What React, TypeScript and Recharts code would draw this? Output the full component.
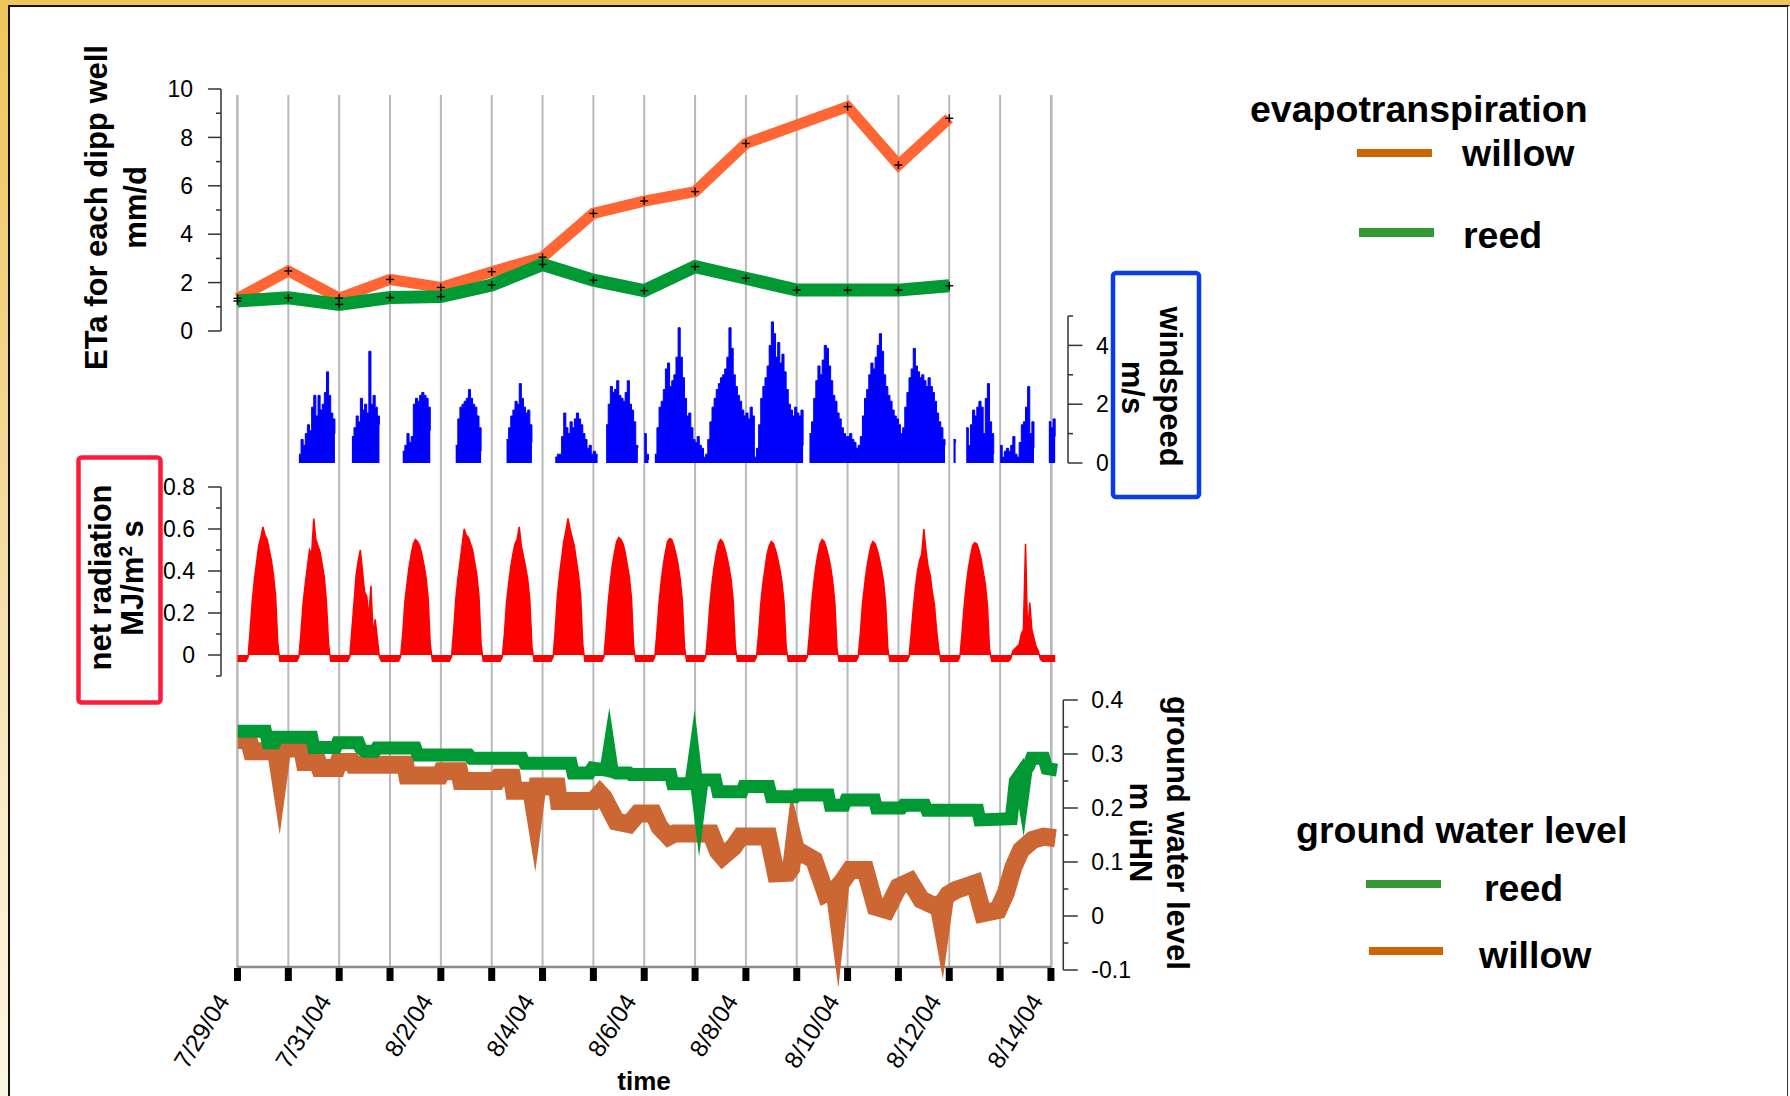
import React from 'react';
import { ComposedChart, Line, Area, XAxis, YAxis, CartesianGrid, ReferenceLine } from 'recharts';

const W = 1790;
const H = 1096;
const FONT = '"Liberation Sans", Arial, Helvetica, sans-serif';

// ---------- layout helpers (pixel position of 7/29/04 00:00 and px per day) ----------
const X0 = 237.5;
const DAY = 50.84;
const dom = (l: number, r: number): [number, number] => [(l - X0) / DAY, (r - X0) / DAY];

// ---------- x axis ----------
const dayTicks = [0, 1, 2, 3, 4, 5, 6, 7, 8, 9, 10, 11, 12, 13, 14, 15, 16];
const dateLabels = ['7/29/04', '', '7/31/04', '', '8/2/04', '', '8/4/04', '', '8/6/04', '', '8/8/04', '', '8/10/04', '', '8/12/04', '', '8/14/04'];

// ---------- evapotranspiration (mm/d), one value per day starting 7/29 ----------
const etaDays = [0, 1, 2, 3, 4, 5, 6, 7, 8, 9, 10, 11, 12, 13, 14];
const etaWillow = [1.35, 2.48, 1.36, 2.13, 1.8, 2.45, 3.05, 4.86, 5.37, 5.76, 7.75, null, 9.27, 6.86, 8.79];
const etaReed = [1.24, 1.37, 1.1, 1.38, 1.42, 1.9, 2.75, 2.1, 1.67, 2.66, 2.18, 1.69, 1.69, 1.69, 1.87];
const etaTicks = [0, 1, 2, 3, 4, 5, 6, 7, 8, 9, 10];
const etaMajor = [0, 2, 4, 6, 8, 10];

// ---------- windspeed (m/s), hourly per day, null = no record ----------
const n = null;
const windDay0 = [n, n, n, n, n, n, n, n, n, n, n, n, n, n, n, n, n, n, n, n, n, n, n, n];
const windDay1 = [n, n, n, n, n, 0.3, 0.8, 0.6, 1.0, 1.3, 1.1, 1.9, 2.3, 1.6, 2.3, 1.8, 2.0, 2.4, 3.1, 2.3, 1.7, 1.5, 1.0, n];
const windDay2 = [n, n, n, n, n, n, 0.9, 1.2, 1.6, 1.4, 2.2, 1.8, 2.0, 1.7, 3.8, 2.0, 2.3, 1.9, 1.6, 1.3, n, n, n, n];
const windDay3 = [n, n, n, n, n, n, 0.4, 0.6, 1.0, 0.7, 0.9, 2.0, 2.2, 2.1, 2.3, 2.4, 2.3, 2.2, 1.9, 1.1, n, n, n, n];
const windDay4 = [n, n, n, n, n, n, n, 0.6, 1.5, 1.9, 2.0, 2.1, 2.2, 2.5, 2.2, 2.0, 1.9, 1.6, 1.2, 0.4, n, n, n, n];
const windDay5 = [n, n, n, n, n, n, n, 0.8, 1.2, 1.6, 1.8, 2.1, 2.0, 2.7, 2.2, 1.9, 1.7, 1.8, 1.3, 0.7, n, n, n, n];
const windDay6 = [n, n, n, n, n, n, 0.2, 0.3, 0.3, 0.9, 1.7, 1.2, 1.0, 1.4, 1.2, 1.5, 1.7, 1.5, 1.3, 1.0, 0.8, 0.5, 0.6, 0.3];
const windDay7 = [0.4, 0.3, 0.3, n, n, n, 1.3, 2.0, 2.6, 2.4, 2.5, 2.8, 2.3, 2.2, 2.1, 2.4, 2.8, 2.0, 1.8, 1.4, 0.6, 0.5, n, n];
const windDay8 = [1.0, 0.3, 0.1, n, n, 0.3, 1.2, 1.9, 2.1, 2.5, 3.2, 3.4, 2.6, 2.8, 3.0, 3.6, 4.6, 3.6, 2.9, 2.2, 1.6, 1.7, 1.2, 0.8];
const windDay9 = [0.7, 0.9, 0.6, 0.5, 0.2, 0.3, 0.8, 1.4, 1.9, 2.2, 2.5, 2.7, 2.9, 3.0, 3.2, 3.6, 4.6, 3.9, 3.0, 2.6, 2.3, 2.1, 1.8, 1.6];
const windDay10 = [1.7, 1.5, 1.9, 1.6, 0.2, 0.5, 1.3, 2.2, 2.6, 2.9, 3.3, 4.0, 4.8, 4.4, 3.6, 4.1, 3.4, 3.7, 3.1, 2.5, 2.0, 1.8, 1.6, 1.9];
const windDay11 = [1.7, 1.6, 1.8, 0.6, n, n, 1.0, 1.4, 2.2, 2.8, 3.3, 3.0, 3.5, 4.0, 3.9, 3.3, 2.8, 2.3, 2.1, 1.7, 1.5, 1.2, 1.0, 0.9];
const windDay12 = [0.9, 1.0, 0.8, 0.7, 0.5, 0.6, 0.9, 1.6, 2.2, 2.5, 3.0, 3.4, 3.2, 3.6, 4.0, 4.4, 3.8, 3.0, 2.6, 2.3, 2.1, 1.8, 1.6, 1.5];
const windDay13 = [1.3, 1.0, 1.2, 1.9, 2.4, 2.9, 3.2, 3.9, 3.3, 3.1, 2.9, 3.0, 2.8, 2.6, 2.9, 2.6, 2.4, 2.1, 1.7, 1.4, 1.2, 0.8, 0.6, n];
const windDay14 = [n, n, 0.8, 0.7, n, n, n, n, 1.2, 0.6, 1.3, 1.8, 1.6, 1.9, 2.1, 1.9, 1.0, 2.2, 2.7, 1.4, 1.0, 0.3, n, n];
const windDay15 = [0.6, 0.2, 0.4, 0.5, 0.4, 0.6, 0.9, 0.3, 0.2, 0.7, 1.3, 1.4, 1.9, 2.6, 1.0, 1.4, 0.5, n, n, n, n, n, n, 1.4];
const windDay16 = [1.2, 1.5, 0.9];
const windByDay = [windDay0, windDay1, windDay2, windDay3, windDay4, windDay5, windDay6, windDay7, windDay8, windDay9, windDay10, windDay11, windDay12, windDay13, windDay14, windDay15, windDay16];
const windTicks = [0, 1, 2, 3, 4, 5];
const windMajor = [0, 2, 4];

// ---------- net radiation (MJ/m2 s), hourly per day ----------
const radDay0 = [-0.03, -0.03, -0.03, -0.03, -0.03, -0.01, 0.12, 0.26, 0.36, 0.44, 0.52, 0.56, 0.61, 0.57, 0.55, 0.5, 0.45, 0.38, 0.28, 0.06, -0.03, -0.03, -0.03, -0.03];
const radDay1 = [-0.03, -0.03, -0.03, -0.03, -0.03, -0.01, 0.11, 0.25, 0.34, 0.42, 0.5, 0.48, 0.65, 0.55, 0.52, 0.49, 0.43, 0.37, 0.25, 0.05, -0.03, -0.03, -0.03, -0.03];
const radDay2 = [-0.03, -0.03, -0.03, -0.03, -0.03, -0.01, 0.12, 0.25, 0.38, 0.45, 0.5, 0.4, 0.3, 0.28, 0.18, 0.33, 0.1, 0.17, 0.08, -0.01, -0.03, -0.03, -0.03, -0.03];
const radDay3 = [-0.03, -0.03, -0.03, -0.03, -0.03, -0.01, 0.1, 0.25, 0.34, 0.42, 0.48, 0.53, 0.55, 0.54, 0.52, 0.48, 0.43, 0.37, 0.27, 0.05, -0.03, -0.03, -0.03, -0.03];
const radDay4 = [-0.03, -0.03, -0.03, -0.03, -0.03, -0.01, 0.11, 0.26, 0.36, 0.44, 0.52, 0.6, 0.57, 0.56, 0.53, 0.5, 0.44, 0.38, 0.28, 0.05, -0.03, -0.03, -0.03, -0.03];
const radDay5 = [-0.03, -0.03, -0.03, -0.03, -0.03, -0.01, 0.1, 0.25, 0.34, 0.42, 0.48, 0.53, 0.55, 0.61, 0.52, 0.47, 0.42, 0.36, 0.26, 0.04, -0.03, -0.03, -0.03, -0.03];
const radDay6 = [-0.03, -0.03, -0.03, -0.03, -0.03, -0.01, 0.12, 0.28, 0.38, 0.46, 0.54, 0.59, 0.65, 0.6, 0.56, 0.52, 0.45, 0.38, 0.28, 0.05, -0.03, -0.03, -0.03, -0.03];
const radDay7 = [-0.03, -0.03, -0.03, -0.03, -0.03, -0.01, 0.11, 0.25, 0.35, 0.43, 0.49, 0.54, 0.56, 0.55, 0.53, 0.49, 0.43, 0.37, 0.27, 0.04, -0.03, -0.03, -0.03, -0.03];
const radDay8 = [-0.03, -0.03, -0.03, -0.03, -0.03, -0.01, 0.11, 0.25, 0.35, 0.43, 0.49, 0.54, 0.555, 0.55, 0.52, 0.48, 0.43, 0.36, 0.26, 0.04, -0.03, -0.03, -0.03, -0.03];
const radDay9 = [-0.03, -0.03, -0.03, -0.03, -0.03, -0.01, 0.1, 0.24, 0.34, 0.42, 0.48, 0.53, 0.55, 0.54, 0.51, 0.47, 0.42, 0.36, 0.26, 0.04, -0.03, -0.03, -0.03, -0.03];
const radDay10 = [-0.03, -0.03, -0.03, -0.03, -0.03, -0.01, 0.1, 0.24, 0.34, 0.41, 0.48, 0.52, 0.54, 0.53, 0.5, 0.46, 0.41, 0.35, 0.25, 0.04, -0.03, -0.03, -0.03, -0.03];
const radDay11 = [-0.03, -0.03, -0.03, -0.03, -0.03, -0.01, 0.1, 0.24, 0.34, 0.42, 0.48, 0.53, 0.55, 0.54, 0.51, 0.47, 0.42, 0.35, 0.25, 0.03, -0.03, -0.03, -0.03, -0.03];
const radDay12 = [-0.03, -0.03, -0.03, -0.03, -0.03, -0.01, 0.1, 0.24, 0.33, 0.41, 0.47, 0.52, 0.54, 0.53, 0.5, 0.46, 0.41, 0.35, 0.24, 0.03, -0.03, -0.03, -0.03, -0.03];
const radDay13 = [-0.03, -0.03, -0.03, -0.03, -0.03, -0.01, 0.1, 0.22, 0.32, 0.4, 0.45, 0.48, 0.6, 0.5, 0.42, 0.38, 0.3, 0.24, 0.12, 0.03, -0.03, -0.03, -0.03, -0.03];
const radDay14 = [-0.03, -0.03, -0.03, -0.03, -0.03, -0.01, 0.1, 0.23, 0.33, 0.41, 0.47, 0.52, 0.535, 0.53, 0.5, 0.46, 0.4, 0.34, 0.24, 0.03, -0.03, -0.03, -0.03, -0.03];
const radDay15 = [-0.03, -0.03, -0.03, -0.03, -0.03, -0.02, 0.02, 0.03, 0.04, 0.05, 0.1, 0.12, 0.53, 0.1, 0.25, 0.12, 0.08, 0.04, 0.02, -0.02, -0.03, -0.03, -0.03, -0.03];
const radDay16 = [-0.03, -0.03, -0.03];
const radByDay = [radDay0, radDay1, radDay2, radDay3, radDay4, radDay5, radDay6, radDay7, radDay8, radDay9, radDay10, radDay11, radDay12, radDay13, radDay14, radDay15, radDay16];
const radTicks = [-0.1, 0, 0.1, 0.2, 0.3, 0.4, 0.5, 0.6, 0.7, 0.8];
const radMajor = [0, 0.2, 0.4, 0.6, 0.8];

// ---------- ground water level (m üHN), [day, value] ----------
const gwReed: [number, number][] = [
  [0, 0.342], [0.55, 0.342], [0.6, 0.321], [0.73, 0.321], [0.77, 0.331], [1.46, 0.331], [1.5, 0.312], [1.93, 0.312],
  [1.97, 0.321], [2.38, 0.321], [2.42, 0.311], [2.5, 0.305], [2.7, 0.305], [2.74, 0.311], [3.5, 0.311], [3.55, 0.298],
  [4.55, 0.298], [4.6, 0.292], [5.6, 0.292], [5.65, 0.283], [6.56, 0.283], [6.6, 0.265], [6.92, 0.265], [6.98, 0.274],
  [7.2, 0.271], [7.25, 0.27], [7.31, 0.306], [7.37, 0.268], [7.45, 0.265], [7.7, 0.265], [7.74, 0.262], [8.52, 0.262],
  [8.56, 0.245], [8.92, 0.245], [8.98, 0.286], [9.03, 0.245], [9.08, 0.207], [9.14, 0.252], [9.4, 0.252], [9.45, 0.23],
  [9.92, 0.23], [9.96, 0.24], [10.45, 0.24], [10.5, 0.221], [10.97, 0.221], [11.0, 0.224], [11.62, 0.224], [11.66, 0.205],
  [11.93, 0.205], [11.97, 0.215], [12.53, 0.215], [12.57, 0.2], [13.06, 0.2], [13.1, 0.205], [13.52, 0.205], [13.56, 0.196],
  [14.56, 0.196], [14.6, 0.178], [15.22, 0.18], [15.3, 0.25], [15.39, 0.262], [15.45, 0.228], [15.51, 0.27], [15.56, 0.277],
  [15.62, 0.292], [15.86, 0.292], [15.92, 0.273], [16.12, 0.27],
];
const gwWillow: [number, number][] = [
  [0, 0.326], [0.22, 0.326], [0.28, 0.305], [0.76, 0.305], [0.82, 0.268], [0.88, 0.31], [1.27, 0.31], [1.32, 0.285],
  [1.58, 0.285], [1.62, 0.274], [1.95, 0.274], [1.99, 0.285], [2.25, 0.285], [2.28, 0.28], [3.3, 0.28], [3.34, 0.26],
  [3.98, 0.26], [4.02, 0.268], [4.36, 0.268], [4.4, 0.25], [5.1, 0.25], [5.14, 0.256], [5.4, 0.256], [5.44, 0.232],
  [5.78, 0.232], [5.84, 0.197], [5.9, 0.24], [6.28, 0.24], [6.32, 0.213], [7.0, 0.213], [7.13, 0.227], [7.2, 0.22],
  [7.45, 0.175], [7.7, 0.17], [7.88, 0.19], [8.18, 0.19], [8.3, 0.165], [8.48, 0.147], [8.6, 0.153], [9.31, 0.153],
  [9.45, 0.12], [9.54, 0.11], [9.76, 0.128], [9.9, 0.147], [10.44, 0.147], [10.59, 0.079], [10.83, 0.08], [10.89, 0.088],
  [10.95, 0.135], [11.01, 0.112], [11.12, 0.116], [11.34, 0.104], [11.57, 0.042], [11.74, 0.05], [11.8, 0.007], [11.86, 0.06],
  [11.92, 0.067], [12.05, 0.085], [12.35, 0.085], [12.55, 0.017], [12.77, 0.011], [13.0, 0.054], [13.23, 0.064], [13.45, 0.03],
  [13.75, 0.017], [13.79, 0.02], [13.85, -0.011], [13.91, 0.03], [13.98, 0.04], [14.13, 0.048], [14.5, 0.06], [14.66, 0.005],
  [14.96, 0.011], [15.11, 0.042], [15.26, 0.09], [15.41, 0.122], [15.64, 0.141], [15.86, 0.147], [16.09, 0.144],
];
const gwTicks = [-0.1, -0.05, 0, 0.05, 0.1, 0.15, 0.2, 0.25, 0.3, 0.35, 0.4];
const gwMajor = [-0.1, 0, 0.1, 0.2, 0.3, 0.4];

// ---------- tables built from the arrays ----------
const etaRows = etaDays.map((t, i) => ({ t, willow: etaWillow[i], reed: etaReed[i] }));
const windRows = windByDay.flatMap((arr, d) => arr.map((v, h) => ({ t: d + h / 24, wind: v })));
const radRows = radByDay.flatMap((arr, d) => arr.map((v, h) => ({ t: d + h / 24, rad: v })));
const gwReedRows = gwReed.map(([t, v]) => ({ t, v }));
const gwWillowRows = gwWillow.map(([t, v]) => ({ t, v }));
const gridRows = dayTicks.map((t) => ({ t }));

// ---------- tick renderers ----------
const fmt = (v: number) => String(v);
const TICK_FS = 23;

const LeftTick = (props: any) => {
  const { x, y, payload, majors, gap } = props;
  const v = payload.value;
  const major = majors.includes(v);
  return (
    <g>
      <line x1={x} x2={x - (major ? 13 : 5)} y1={y} y2={y} stroke="#333" strokeWidth={1.5} />
      {major && (
        <text x={x - gap} y={y} dy="0.36em" textAnchor="end" fontSize={TICK_FS} fontFamily={FONT} fill="#000">
          {fmt(v)}
        </text>
      )}
    </g>
  );
};

const RightTick = (props: any) => {
  const { x, y, payload, majors, gap } = props;
  const v = payload.value;
  const major = majors.includes(v);
  return (
    <g>
      <line x1={x} x2={x + (major ? 14.5 : 5)} y1={y} y2={y} stroke="#333" strokeWidth={1.5} />
      {major && (
        <text x={x + gap} y={y} dy="0.36em" textAnchor="start" fontSize={TICK_FS} fontFamily={FONT} fill="#000">
          {fmt(v)}
        </text>
      )}
    </g>
  );
};

const DateTick = (props: any) => {
  const { x, y, payload } = props;
  const idx = Math.round(payload.value);
  const label = dateLabels[idx];
  return (
    <g>
      <rect x={x - 3.5} y={y + 1} width={7} height={13} fill="#000" />
      {label ? (
        <text
          transform={`translate(${x - 7},${y + 34}) rotate(-58)`}
          textAnchor="end"
          fontSize={24.5}
          fontFamily={FONT}
          fill="#000"
        >
          {label}
        </text>
      ) : null}
    </g>
  );
};

const PlusDot = (props: any) => {
  const { cx, cy, value } = props;
  if (cx == null || cy == null || value == null || Number.isNaN(cy)) return <g />;
  return (
    <g>
      <line x1={cx - 4} x2={cx + 4} y1={cy} y2={cy} stroke="#000" strokeWidth={1.4} />
      <line x1={cx} x2={cx} y1={cy - 4} y2={cy + 4} stroke="#000" strokeWidth={1.4} />
    </g>
  );
};

const layer: React.CSSProperties = { position: 'absolute', left: 0, top: 0, width: W, height: H };

// plot rectangles (pixels)
const GRID = { l: 237.3, r: 1051.6, t: 95, b: 967 };
const ETA = { l: 221, r: 1051, t: 89, b: 331 };
const WIND = { l: 237.5, r: 1068, t: 316, b: 463 };
const RAD = { l: 221, r: 1063, t: 487, b: 676 };
const GW = { l: 237.5, r: 1063.3, t: 700, b: 986.2 };
const YW = 60;
const XH = 100;

export default function App() {
  const gwDom = dom(GW.l, GW.r);
  return (
    <div
      style={{
        position: 'absolute',
        left: 0,
        top: 0,
        width: W,
        height: H,
        overflow: 'hidden',
        background: 'linear-gradient(180deg, #efc55a 0%, #f4d894 40%, #f9ecc8 75%, #fcf5e3 100%)',
        fontFamily: FONT,
      }}
    >
      <div
        style={{
          position: 'absolute',
          left: 8,
          top: 5,
          width: 1777,
          height: 1120,
          background: '#ffffff',
          borderLeft: '2px solid #111',
          borderTop: '2px solid #111',
          borderRight: '4px double #333',
        }}
      />

      {/* grid + time axis */}
      <div style={layer}>
        <ComposedChart
          width={W}
          height={H}
          data={gridRows}
          margin={{ top: GRID.t, left: GRID.l, right: W - GRID.r, bottom: H - GRID.b - XH }}
        >
          <CartesianGrid horizontal={false} vertical stroke="#b8b8b8" strokeWidth={2} />
          <XAxis
            type="number"
            dataKey="t"
            domain={dom(GRID.l, GRID.r)}
            allowDataOverflow
            ticks={dayTicks}
            interval={0}
            height={XH}
            tickLine={false}
            tickSize={0}
            tickMargin={0}
            axisLine={{ stroke: '#8a8a8a', strokeWidth: 2.5 }}
            tick={<DateTick />}
          />
          <YAxis hide domain={[0, 1]} />
        </ComposedChart>
      </div>

      {/* evapotranspiration */}
      <div style={layer}>
        <ComposedChart
          width={W}
          height={H}
          data={etaRows}
          margin={{ top: ETA.t, left: ETA.l - YW, right: W - ETA.r, bottom: H - ETA.b }}
        >
          <XAxis hide type="number" dataKey="t" domain={dom(ETA.l, ETA.r)} allowDataOverflow />
          <YAxis
            type="number"
            domain={[0, 10]}
            ticks={etaTicks}
            interval={0}
            width={YW}
            tickLine={false}
            tickSize={0}
            tickMargin={0}
            axisLine={{ stroke: '#333', strokeWidth: 1.5 }}
            tick={<LeftTick majors={etaMajor} gap={28} />}
          />
          <Line
            dataKey="willow"
            type="linear"
            stroke="#ff6633"
            strokeWidth={11}
            connectNulls
            dot={<PlusDot />}
            activeDot={false}
            isAnimationActive={false}
          />
          <Line
            dataKey="reed"
            type="linear"
            stroke="#009933"
            strokeWidth={13}
            dot={<PlusDot />}
            activeDot={false}
            isAnimationActive={false}
          />
        </ComposedChart>
      </div>

      {/* windspeed */}
      <div style={layer}>
        <ComposedChart
          width={W}
          height={H}
          data={windRows}
          margin={{ top: WIND.t, left: WIND.l, right: W - WIND.r - YW, bottom: H - WIND.b }}
        >
          <XAxis hide type="number" dataKey="t" domain={dom(WIND.l, WIND.r)} allowDataOverflow />
          <YAxis
            orientation="right"
            type="number"
            domain={[0, 5]}
            ticks={windTicks}
            interval={0}
            width={YW}
            tickLine={false}
            tickSize={0}
            tickMargin={0}
            axisLine={{ stroke: '#333', strokeWidth: 1.5 }}
            tick={<RightTick majors={windMajor} gap={28} />}
          />
          <Area
            dataKey="wind"
            type="stepAfter"
            baseValue={0}
            stroke="#0000ff"
            strokeWidth={1}
            fill="#0000ff"
            fillOpacity={1}
            dot={false}
            activeDot={false}
            isAnimationActive={false}
          />
        </ComposedChart>
      </div>

      {/* net radiation */}
      <div style={layer}>
        <ComposedChart
          width={W}
          height={H}
          data={radRows}
          margin={{ top: RAD.t, left: RAD.l - YW, right: W - RAD.r, bottom: H - RAD.b }}
        >
          <XAxis hide type="number" dataKey="t" domain={dom(RAD.l, RAD.r)} allowDataOverflow />
          <YAxis
            type="number"
            domain={[-0.1, 0.8]}
            ticks={radTicks}
            interval={0}
            width={YW}
            tickLine={false}
            tickSize={0}
            tickMargin={0}
            axisLine={{ stroke: '#333', strokeWidth: 1.5 }}
            tick={<LeftTick majors={radMajor} gap={26} />}
          />
          <Area
            dataKey="rad"
            type="linear"
            baseValue={0}
            stroke="#ff0000"
            strokeWidth={1.5}
            fill="#ff0000"
            fillOpacity={1}
            dot={false}
            activeDot={false}
            isAnimationActive={false}
          />
        </ComposedChart>
      </div>

      {/* ground water level */}
      <div style={layer}>
        <ComposedChart
          width={W}
          height={H}
          margin={{ top: GW.t, left: GW.l, right: W - GW.r - YW, bottom: H - GW.b }}
        >
          <XAxis hide type="number" dataKey="t" domain={gwDom} allowDataOverflow />
          <YAxis
            orientation="right"
            type="number"
            domain={[-0.13, 0.4]}
            allowDataOverflow
            ticks={gwTicks}
            interval={0}
            width={YW}
            tickLine={false}
            tickSize={0}
            tickMargin={0}
            axisLine={false}
            tick={<RightTick majors={gwMajor} gap={28} />}
          />
          <ReferenceLine
            segment={[
              { x: gwDom[1], y: -0.1 },
              { x: gwDom[1], y: 0.4 },
            ]}
            stroke="#333"
            strokeWidth={1.5}
            ifOverflow="visible"
          />
          <Line
            data={gwWillowRows}
            dataKey="v"
            type="linear"
            stroke="#cc6633"
            strokeWidth={18}
            strokeLinejoin="miter"
            strokeMiterlimit={10}
            dot={false}
            activeDot={false}
            isAnimationActive={false}
          />
          <Line
            data={gwReedRows}
            dataKey="v"
            type="linear"
            stroke="#009933"
            strokeWidth={13}
            strokeLinejoin="miter"
            strokeMiterlimit={10}
            dot={false}
            activeDot={false}
            isAnimationActive={false}
          />
        </ComposedChart>
      </div>

      {/* titles, boxes and legends */}
      <svg style={layer} width={W} height={H}>
        <g fontFamily={FONT} fontWeight="bold" fill="#000">
          <text transform="translate(107,207.5) rotate(-90)" textAnchor="middle" fontSize={31}>
            ETa for each dipp well
          </text>
          <text transform="translate(146,207.5) rotate(-90)" textAnchor="middle" fontSize={31}>
            mm/d
          </text>

          <rect x={78.5} y={457.5} width={82} height={245} rx={3} fill="none" stroke="#ff1a3c" strokeWidth={4.5} />
          <text transform="translate(111,577.5) rotate(-90)" textAnchor="middle" fontSize={31}>
            net radiation
          </text>
          <text transform="translate(143,578) rotate(-90)" textAnchor="middle" fontSize={31}>
            MJ/m
            <tspan fontSize={19} dy={-11}>
              2
            </tspan>
            <tspan dy={11}> s</tspan>
          </text>

          <rect x={1113} y={273} width={86} height={224} rx={3} fill="none" stroke="#0a3be8" strokeWidth={4.5} />
          <text transform="translate(1160,386.5) rotate(90)" textAnchor="middle" fontSize={31}>
            windspeed
          </text>
          <text transform="translate(1122,387.5) rotate(90)" textAnchor="middle" fontSize={31}>
            m/s
          </text>

          <text transform="translate(1167,833) rotate(90)" textAnchor="middle" fontSize={31}>
            ground water level
          </text>
          <text transform="translate(1129.5,832.5) rotate(90)" textAnchor="middle" fontSize={31}>
            m üHN
          </text>

          <text x={644} y={1090} textAnchor="middle" fontSize={26}>
            time
          </text>

          <text x={1250} y={122} fontSize={37.5}>
            evapotranspiration
          </text>
          <rect x={1357} y={149} width={75} height={8} fill="#cc6600" />
          <text x={1462} y={166} fontSize={37.5}>
            willow
          </text>
          <rect x={1359} y={228} width={75} height={9} fill="#339933" />
          <text x={1463} y={248} fontSize={37.5}>
            reed
          </text>

          <text x={1296} y={843} fontSize={37.5}>
            ground water level
          </text>
          <rect x={1366} y={880} width={75} height={8} fill="#339933" />
          <text x={1484} y={901} fontSize={37.5}>
            reed
          </text>
          <rect x={1369} y={947} width={74} height={8} fill="#cc6600" />
          <text x={1479} y={968} fontSize={37.5}>
            willow
          </text>
        </g>
      </svg>
    </div>
  );
}
